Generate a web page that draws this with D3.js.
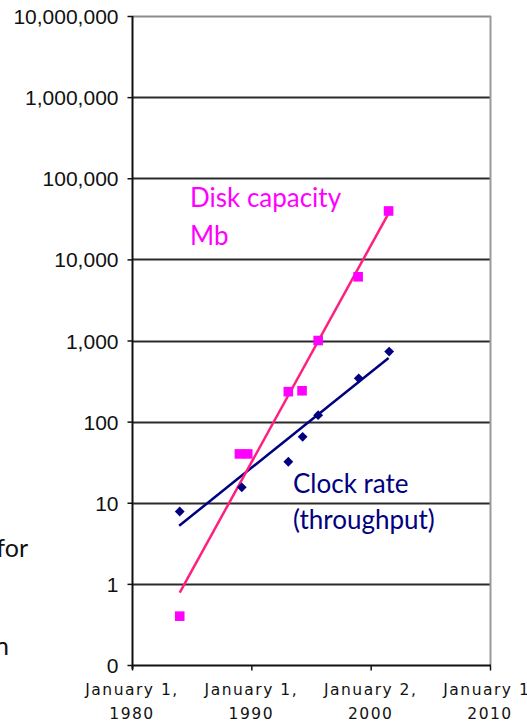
<!DOCTYPE html>
<html>
<head>
    <title>Disk capacity and clock rate</title>
    <meta charset="utf-8">
    <script src="https://cdn.jsdelivr.net/npm/d3@7"></script>
    <style>
        body { margin: 0; background: #fff; }
    </style>
</head>
<body>
<div class="chart-area"></div>
<script type="text/javascript">
    // values (x = decimal year, y = value)
    var diskYears  = [1984.0, 1989.0, 1989.7, 1993.1, 1994.25, 1995.6, 1998.95, 2001.5];
    var diskValues = [0.4, 40, 40, 234, 240, 1000, 6100, 39500];

    var clockYears  = [1984.0, 1989.2, 1993.1, 1994.3, 1995.6, 1999.0, 2001.55];
    var clockValues = [7.8, 15.5, 32, 65, 120, 342, 730];

    // trend lines (start / end as seen in the picture)
    var diskTrendYears = [1984.0, 2001.5];
    var diskTrendValues = [0.78, 37000];
    var clockTrendYears = [1983.95, 2001.5];
    var clockTrendValues = [5.2, 610];

    var yTickValues = [0.1, 1, 10, 100, 1000, 10000, 100000, 1000000, 10000000];
    var yTickLabels = ['0', '1', '10', '100', '1,000', '10,000', '100,000', '1,000,000', '10,000,000'];

    var xTickValues = [1980, 1990, 2000, 2010];
    var xTickLine1 = ['January 1,', 'January 1,', 'January 2,', 'January 1,'];
    var xTickLine2 = ['1980', '1990', '2000', '2010'];

    var W = 527, H = 723;
    var m = { left: 132, right: 490, top: 16, bottom: 665 };

    var svg = d3.select('.chart-area')
        .append('svg')
        .attr('width', W)
        .attr('height', H);

    var x = d3.scaleLinear().domain([1980, 2010]).range([m.left, m.right]);
    var y = d3.scaleLog().domain([0.1, 10000000]).range([m.bottom, m.top]);

    // gridlines
    svg.append('g')
        .selectAll('line')
        .data(yTickValues.slice(1, -1))
        .enter()
        .append('line')
        .attr('x1', m.left).attr('x2', m.right)
        .attr('y1', function(d){ return Math.round(y(d)) + 0.5; })
        .attr('y2', function(d){ return Math.round(y(d)) + 0.5; })
        .attr('stroke', '#2b2b2b')
        .attr('stroke-width', 2);

    // top + right border (grey)
    svg.append('line')
        .attr('x1', m.left).attr('x2', m.right + 1)
        .attr('y1', m.top + 0.5).attr('y2', m.top + 0.5)
        .attr('stroke', '#8c8c8c').attr('stroke-width', 2);
    svg.append('line')
        .attr('x1', m.right + 0.5).attr('x2', m.right + 0.5)
        .attr('y1', m.top).attr('y2', m.bottom)
        .attr('stroke', '#9a9a9a').attr('stroke-width', 2);

    // y axis
    var yAxis = d3.axisLeft(y)
        .tickValues(yTickValues)
        .tickSize(5)
        .tickFormat(function(d, i){ return yTickLabels[i]; });

    var gy = svg.append('g')
        .attr('transform', 'translate(' + (m.left + 0.5) + ',0)')
        .call(yAxis);
    gy.select('.domain').remove();
    gy.selectAll('.tick line').attr('stroke', '#111').attr('stroke-width', 1.5);
    gy.selectAll('.tick text')
        .attr('x', -14)
        .attr('dy', '0.36em')
        .style('font-family', '"Liberation Sans", Arial, sans-serif')
        .style('font-size', '21px')
        .attr('fill', '#111');

    svg.append('line')
        .attr('x1', m.left + 0.5).attr('x2', m.left + 0.5)
        .attr('y1', m.top).attr('y2', m.bottom + 4)
        .attr('stroke', '#111').attr('stroke-width', 2);

    // x axis
    var xAxis = d3.axisBottom(x)
        .tickValues(xTickValues)
        .tickSize(5)
        .tickFormat('');

    var gx = svg.append('g')
        .attr('transform', 'translate(0,' + (m.bottom + 0.5) + ')')
        .call(xAxis);
    gx.select('.domain').remove();
    gx.selectAll('.tick line').attr('stroke', '#111').attr('stroke-width', 1.5);

    svg.append('line')
        .attr('x1', m.left).attr('x2', m.right + 1)
        .attr('y1', m.bottom + 0.5).attr('y2', m.bottom + 0.5)
        .attr('stroke', '#111').attr('stroke-width', 2);

    var xl = svg.append('g')
        .selectAll('text')
        .data(xTickValues)
        .enter()
        .append('text')
        .attr('text-anchor', 'middle')
        .style('font-family', '"DejaVu Sans", sans-serif')
        .style('font-size', '15.5px')
        .style('letter-spacing', '1.5px')
        .attr('fill', '#111');
    xl.append('tspan')
        .attr('x', function(d){ return x(d); })
        .attr('y', 695)
        .text(function(d, i){ return xTickLine1[i]; });
    xl.append('tspan')
        .attr('x', function(d){ return x(d); })
        .attr('y', 719)
        .text(function(d, i){ return xTickLine2[i]; });

    // trend lines
    var line = d3.line()
        .x(function(d){ return x(d[0]); })
        .y(function(d){ return y(d[1]); });

    svg.append('path')
        .datum(d3.zip(clockTrendYears, clockTrendValues))
        .attr('d', line)
        .attr('fill', 'none')
        .attr('stroke', '#000080')
        .attr('stroke-width', 2.5);

    svg.append('path')
        .datum(d3.zip(diskTrendYears, diskTrendValues))
        .attr('d', line)
        .attr('fill', 'none')
        .attr('stroke', '#ff1f80')
        .attr('stroke-width', 2.5);

    // markers
    svg.append('g')
        .selectAll('path')
        .data(d3.zip(clockYears, clockValues))
        .enter()
        .append('path')
        .attr('d', d3.symbol().type(d3.symbolSquare).size(48))
        .attr('transform', function(d){ return 'translate(' + x(d[0]) + ',' + y(d[1]) + ') rotate(45)'; })
        .attr('fill', '#000080');

    svg.append('g')
        .selectAll('path')
        .data(d3.zip(diskYears, diskValues))
        .enter()
        .append('path')
        .attr('d', d3.symbol().type(d3.symbolSquare).size(92))
        .attr('transform', function(d){ return 'translate(' + x(d[0]) + ',' + y(d[1]) + ')'; })
        .attr('fill', '#ff00ff');

    // annotations
    var labelFont = 'Lato, "Open Sans", sans-serif';
    svg.append('text').attr('x', 190).attr('y', 207)
        .style('font-family', labelFont).style('font-size', '26px')
        .attr('fill', '#ff00ff').text('Disk capacity');
    svg.append('text').attr('x', 190).attr('y', 245)
        .style('font-family', labelFont).style('font-size', '26px')
        .attr('fill', '#ff00ff').text('Mb');
    svg.append('text').attr('x', 293).attr('y', 493)
        .style('font-family', labelFont).style('font-size', '26px')
        .attr('fill', '#000080').text('Clock rate');
    svg.append('text').attr('x', 293).attr('y', 529)
        .style('font-family', labelFont).style('font-size', '26px')
        .attr('fill', '#000080').text('(throughput)');

    // fragments of slide text cut at the left edge
    svg.append('text').attr('x', 28).attr('y', 557)
        .attr('text-anchor', 'end')
        .style('font-family', labelFont).style('font-size', '25px')
        .attr('fill', '#111').text('for');
    svg.append('text').attr('x', 9).attr('y', 655)
        .attr('text-anchor', 'end')
        .style('font-family', labelFont).style('font-size', '25px')
        .attr('fill', '#111').text('n');
</script>
</body>
</html>
